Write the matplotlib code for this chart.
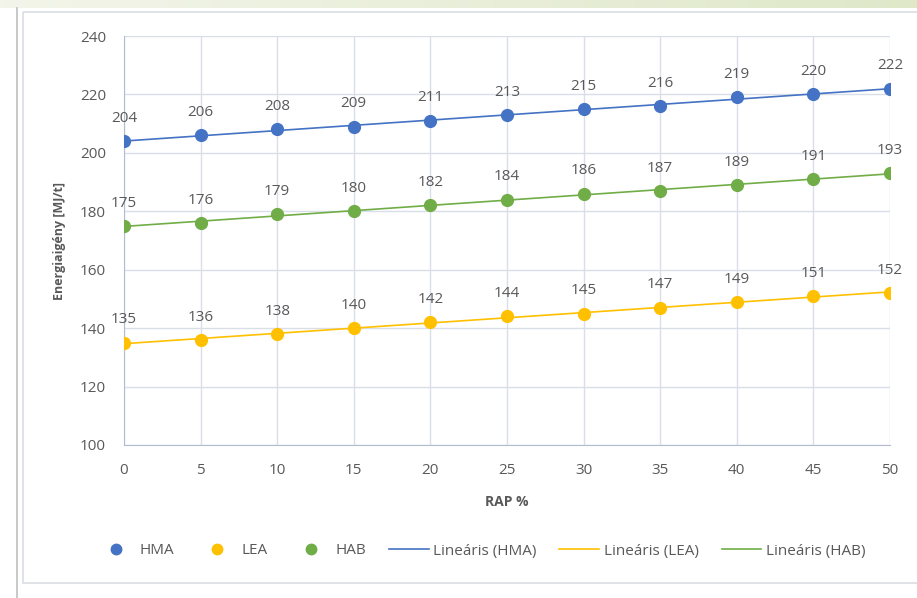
import numpy as np
import matplotlib
matplotlib.use("Agg")
import matplotlib.pyplot as plt
from matplotlib.lines import Line2D
from matplotlib.patches import Rectangle

plt.rcParams['font.family'] = ['Open Sans', 'DejaVu Sans']

rap = [0, 5, 10, 15, 20, 25, 30, 35, 40, 45, 50]
hma = [204, 206, 208, 209, 211, 213, 215, 216, 219, 220, 222]
lea = [135, 136, 138, 140, 142, 144, 145, 147, 149, 151, 152]
hab = [175, 176, 179, 180, 182, 184, 186, 187, 189, 191, 193]
series_names = ['HMA', 'LEA', 'HAB']
y_ticks = [100, 120, 140, 160, 180, 200, 220, 240]

colors = {'HMA': '#4472C4', 'LEA': '#FFC000', 'HAB': '#70AD47'}
text_col = '#595959'
grid_col = '#D9DEE8'

W, H = 917, 598
fig = plt.figure(figsize=(W / 100, H / 100), dpi=100)

# page decoration: green header band, left rule, chart frame
bg = fig.add_axes([0, 0, 1, 1], zorder=-5)
bg.set_xlim(0, W)
bg.set_ylim(H, 0)
bg.axis('off')
grad = np.linspace(0, 1, 256).reshape(1, -1)
band_cmap = matplotlib.colors.LinearSegmentedColormap.from_list('band', ['#F3F5EA', '#DFE8C9'])
bg.imshow(grad, cmap=band_cmap, extent=(0, W, 8, 0), aspect='auto')
bg.plot([17, 17], [8, H], color='#BFBFBF', lw=1.2)
bg.add_patch(Rectangle((23, 12), W, 571, fill=False, ec='#D9DDE3', lw=1.2))

ax = fig.add_axes([124 / W, 1 - 445 / H, (890 - 124) / W, (445 - 36) / H])
x = np.array(rap)
data = {'HMA': hma, 'LEA': lea, 'HAB': hab}

for name in series_names:
    y = np.array(data[name])
    k, b = np.polyfit(x, y, 1)
    ax.plot(x, k * x + b, color=colors[name], lw=1.2, zorder=3)
    ax.plot(x, y, 'o', color=colors[name], ms=8.5, zorder=4)
    for xi, yi in zip(x, y):
        ax.annotate(str(yi), (xi, yi), xytext=(0, 11), textcoords='offset points',
                    ha='center', va='bottom', fontsize=11, color=text_col)

ax.set_xlim(0, 50)
ax.set_ylim(100, 240)
ax.set_xticks(rap)
ax.set_yticks(y_ticks)
ax.grid(True, color=grid_col, lw=1)
ax.set_axisbelow(True)
for s in ['top', 'right']:
    ax.spines[s].set_visible(False)
for s in ['left', 'bottom']:
    ax.spines[s].set_color('#B4BDD0')
ax.tick_params(length=0, labelsize=11, colors=text_col)
ax.tick_params(axis='x', pad=13)
ax.tick_params(axis='y', pad=13)

ax.set_xlabel('RAP %', fontsize=10, fontweight='bold', color=text_col, labelpad=12)
ax.set_ylabel('Energiaigény [MJ/t]', fontsize=9, fontweight='bold', color=text_col, labelpad=10)

handles = [Line2D([], [], ls='none', marker='o', ms=7.5, color=colors[n]) for n in series_names]
handles += [Line2D([], [], color=colors[n], lw=1.2) for n in series_names]
labels = series_names + [f'Lineáris ({n})' for n in series_names]
fig.legend(handles, labels, loc='center', bbox_to_anchor=(0.524, 1 - 551 / H), ncol=6,
           frameon=False, fontsize=11, labelcolor=text_col, handlelength=2.6,
           columnspacing=1.5, handletextpad=0.3)

fig.savefig('out.png', dpi=100)
